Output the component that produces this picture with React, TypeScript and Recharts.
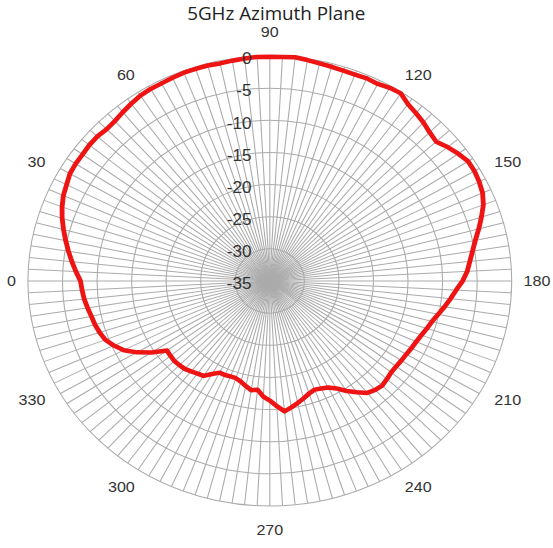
import { PolarAngleAxis, PolarGrid, PolarRadiusAxis, Radar, RadarChart } from "recharts";

// azimuth angle in degrees, 3 degree steps
const angles = [
  0, 3, 6, 9, 12, 15, 18, 21, 24, 27, 30, 33, 36, 39, 42, 45, 48, 51, 54, 57,
  60, 63, 66, 69, 72, 75, 78, 81, 84, 87, 90, 93, 96, 99, 102, 105, 108, 111, 114, 117,
  120, 123, 126, 129, 132, 135, 138, 141, 144, 147, 150, 153, 156, 159, 162, 165, 168, 171, 174, 177,
  180, 183, 186, 189, 192, 195, 198, 201, 204, 207, 210, 213, 216, 219, 222, 225, 228, 231, 234, 237,
  240, 243, 246, 249, 252, 255, 258, 261, 264, 267, 270, 273, 276, 279, 282, 285, 288, 291, 294, 297,
  300, 303, 306, 309, 312, 315, 318, 321, 324, 327, 330, 333, 336, 339, 342, 345, 348, 351, 354, 357,
];

// relative gain in dB
const gain = [
  -7.6, -6.9, -6.2, -5.5, -4.8, -4.1, -3.4, -2.8, -2.3, -2.0,
  -1.6, -1.5, -1.5, -1.4, -1.4, -1.6, -1.5, -1.2, -0.9, -0.6,
  -0.5, -0.5, -0.4, -0.3, -0.3, -0.3, -0.4, -0.3, -0.2, -0.1,
  -0.1, -0.1, 0, -0.2, -0.4, -0.5, -0.6, -0.6, -0.5, -0.6,
  -0.3, -0.2, -1.0, -1.4, -1.8, -2.3, -2.6, -1.9, -1.3, -0.8,
  -0.8, -1.0, -1.3, -1.9, -2.8, -3.7, -4.6, -5.3, -5.9, -6.4,
  -7.1, -8.0, -8.7, -9.4, -10.1, -10.7, -11.1, -11.5, -11.8, -12.0,
  -12.2, -12.3, -12.4, -12.4, -12.2, -12.0, -12.2, -12.6, -13.6, -14.6,
  -15.7, -16.4, -16.7, -16.9, -16.6, -16.1, -15.6, -15.1, -14.6, -15.5,
  -16.4, -17.0, -18.0, -17.8, -18.3, -18.8, -19.1, -19.1, -19.0, -19.0,
  -18.3, -17.4, -17.2, -16.9, -16.6, -16.5, -16.4, -16.5, -16.6, -14.6,
  -12.8, -11.3, -10.3, -9.5, -9.1, -8.8, -8.6, -8.3, -8.0, -7.8,
];

const radiusTicks = [-35, -30, -25, -20, -15, -10, -5, 0];

const data = angles.map((deg, i) => ({ deg, gain: gain[i] }));

const CX = 251;
const CY = 281;
const R = 225;
const labelFont = "'Liberation Sans', Arial, sans-serif";

const sgn = (v: number) => (Math.abs(v) < 0.01 ? 0 : Math.sign(v));

// excel-like placement of the angle labels around the outer ring
function AngleTick({ payload }: any) {
  const v = Number(payload.value);
  if (v % 30 !== 0) return <g />;
  const t = ((180 - v) * Math.PI) / 180;
  const label = String(v);
  const c = Math.cos(t);
  const s = Math.sin(t);
  const hw = 4.2 * label.length;
  const dH = 236 + 20 * s * s;
  const dx = c * dH + sgn(c) * hw;
  const dy = sgn(c) === 0 ? sgn(s) * 249 : s * 238;
  return (
    <text
      x={CX + dx}
      y={CY - dy}
      textAnchor="middle"
      dominantBaseline="central"
      fontSize={15}
      fontFamily={labelFont}
      fill="#333"
    >
      {label}
    </text>
  );
}

function RadiusTick({ x, y, payload }: any) {
  return (
    <text
      x={x - 17}
      y={y + 3}
      textAnchor="end"
      dominantBaseline="central"
      fontSize={16}
      fontFamily={labelFont}
      fill="#333"
    >
      {payload.value}
    </text>
  );
}

export default function App() {
  return (
    <div
      style={{
        position: "absolute",
        left: 0,
        top: 0,
        width: 514,
        height: 548,
        transform: "scaleX(1.075)",
        transformOrigin: "0 0",
        background: "#fff",
      }}
    >
      <div
        style={{
          position: "absolute",
          left: 0,
          top: 5,
          width: 514,
          textAlign: "center",
          fontFamily: "'Open Sans', sans-serif",
          fontSize: 17.5,
          lineHeight: "16px",
          color: "#222",
        }}
      >
        5GHz Azimuth Plane
      </div>
      <RadarChart
        width={514}
        height={548}
        data={data}
        cx={CX}
        cy={CY}
        outerRadius={R}
        startAngle={180}
        endAngle={-180}
        margin={{ top: 0, right: 0, bottom: 0, left: 0 }}
      >
        <PolarGrid gridType="circle" stroke="#ababab" strokeWidth={1} />
        <PolarAngleAxis dataKey="deg" tick={AngleTick} tickLine={false} axisLine={false} />
        <PolarRadiusAxis
          angle={90}
          type="number"
          domain={[-35, 0]}
          ticks={radiusTicks}
          tick={RadiusTick}
          axisLine={false}
          tickLine={false}
        />
        <Radar
          dataKey="gain"
          stroke="#ee1414"
          strokeWidth={4.5}
          strokeLinejoin="round"
          fill="none"
          fillOpacity={0}
          dot={false}
          isAnimationActive={false}
        />
      </RadarChart>
    </div>
  );
}
